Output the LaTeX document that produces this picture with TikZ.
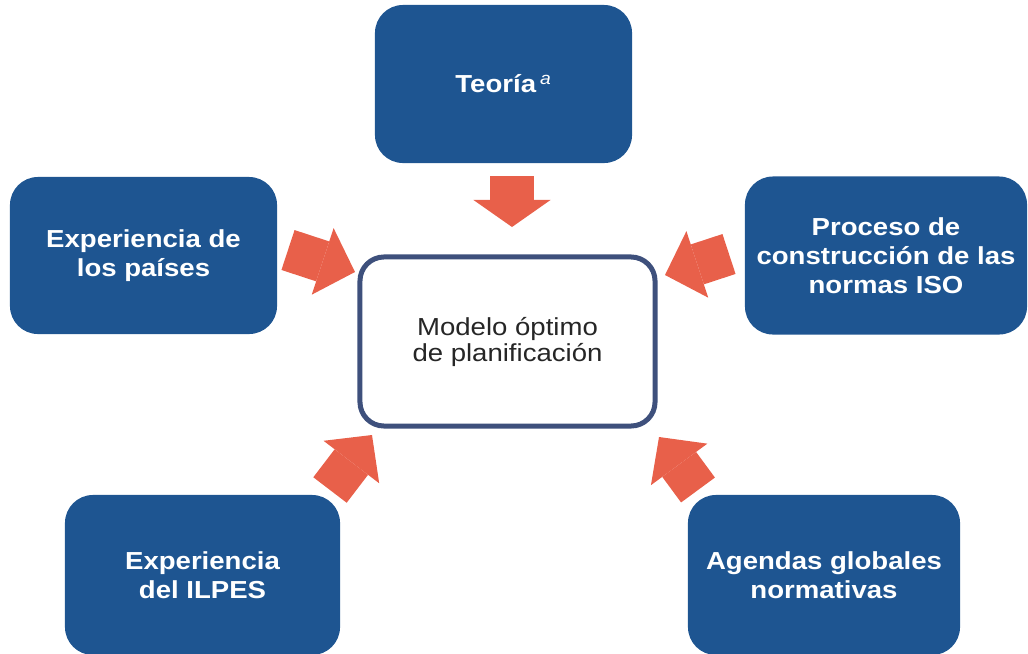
\documentclass[tikz,border=0pt]{standalone}
\usepackage{fontspec}
\setmainfont{Liberation Sans}[FakeStretch=1.12]
\usetikzlibrary{arrows.meta}
\definecolor{boxblue}{RGB}{30,85,145}
\definecolor{arrowred}{RGB}{232,96,74}
\definecolor{slate}{RGB}{62,80,124}
\tikzset{
	x=0.025cm, y=-0.025cm,
	bluebox/.style={fill=boxblue, text=white, align=center, rounded corners=0.7cm, font=\fontsize{17.5}{20.5}\selectfont\bfseries},
	modelbox/.style={draw=slate, line width=0.125cm, fill=white, align=center, rounded corners=0.6cm, minimum width=7.375cm, minimum height=4.225cm, text=black!85, font=\fontsize{17.5}{18.5}\selectfont},
	bigarrow/.style={draw=arrowred, line width=1.05cm, -{Triangle[width=1.75cm, length=0.85cm, line width=0pt]}},
	toparrow/.style={draw=arrowred, line width=1.075cm, -{Triangle[width=1.925cm, length=0.675cm, line width=0pt]}}
}

\begin{document}
\begin{tikzpicture}
\useasboundingbox (0,0) rectangle (1028,653);

\node[bluebox, minimum width=6.425cm, minimum height=3.95cm] (teo) at (503.5,84) {Teoría\,\textsuperscript{\mdseries\itshape a}};
\node[bluebox, minimum width=6.675cm, minimum height=3.925cm] (pai) at (143.5,255.5) {Experiencia de\\los países};
\node[bluebox, minimum width=7.05cm, minimum height=3.95cm] (iso) at (886,255.5) {Proceso de\\construcción de las\\normas ISO};
\node[bluebox, minimum width=6.875cm, minimum height=4cm] (ilp) at (202.5,575) {Experiencia\\del ILPES};
\node[bluebox, minimum width=6.8cm, minimum height=4cm] (age) at (824,575) {Agendas globales\\normativas};

\node[modelbox] (mod) at (507.5,341.5) {Modelo óptimo\\de planificación};

\coordinate (teoS) at (512,176); \coordinate (teoE) at (512,227);
\coordinate (paiS) at (288,250); \coordinate (paiE) at (355,272);
\coordinate (isoS) at (729,254); \coordinate (isoE) at (665,275);
\coordinate (ilpS) at (330,490); \coordinate (ilpE) at (372,435);
\coordinate (ageS) at (698,490); \coordinate (ageE) at (659,437);

\draw[toparrow] (teoS) -- (teoE);
\draw[bigarrow] (paiS) -- (paiE);
\draw[bigarrow] (isoS) -- (isoE);
\draw[bigarrow] (ilpS) -- (ilpE);
\draw[bigarrow] (ageS) -- (ageE);
\end{tikzpicture}
\end{document}
